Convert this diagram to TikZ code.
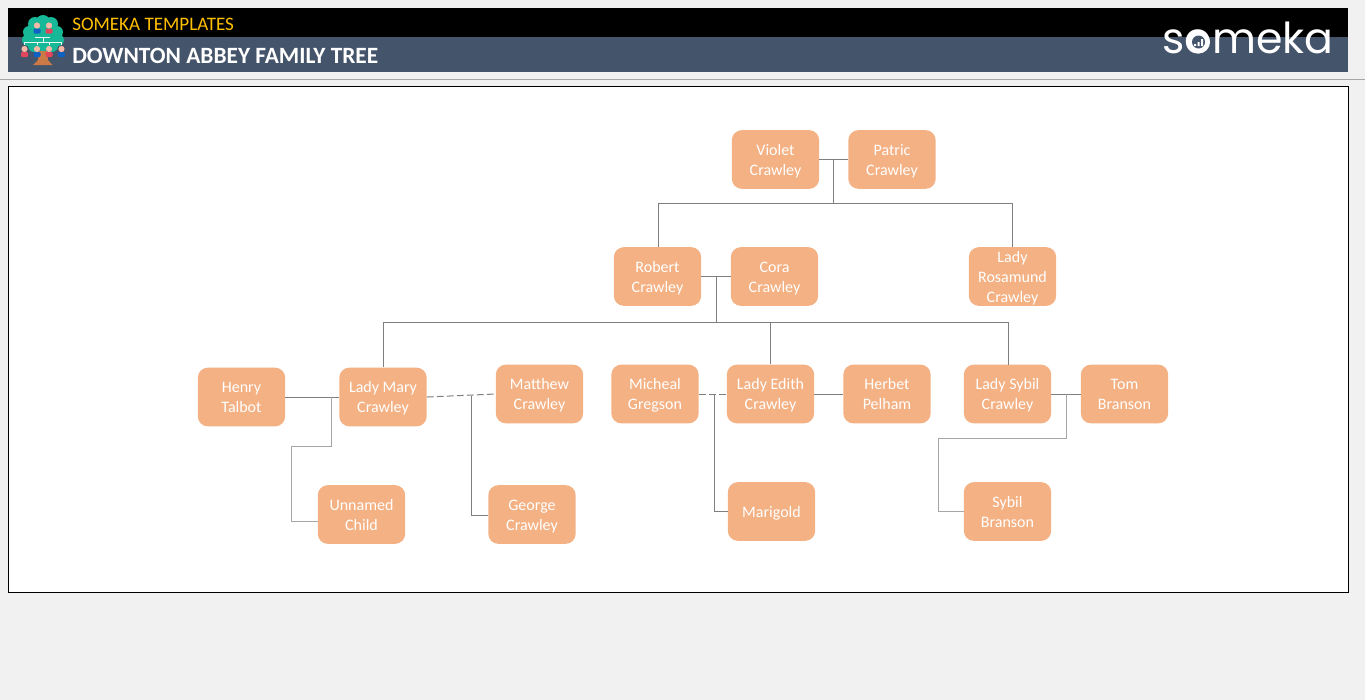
\documentclass[tikz,border=0pt]{standalone}
\usepackage{fontspec}
\setmainfont{Carlito}
\newfontfamily\logofont{Poppins}
\definecolor{pagegrey}{HTML}{F1F1F1}
\definecolor{slate}{HTML}{44546A}
\definecolor{salmon}{HTML}{F4B183}
\definecolor{linegrey}{HTML}{7F7F7F}
\definecolor{lightline}{HTML}{A6A6A6}
\definecolor{gold}{HTML}{FFC000}
\definecolor{canopy}{HTML}{17B897}
\definecolor{trunk}{HTML}{CC7A45}
\definecolor{skin}{HTML}{F6B9A8}
\definecolor{blueperson}{HTML}{0F62C4}
\definecolor{redperson}{HTML}{E2455C}
\newcommand{\pname}[1]{\rule{0pt}{11.2pt}#1\rule[-2.7pt]{0pt}{2.7pt}}
\tikzset{
person/.style={fill=salmon,rounded corners=7.5pt,minimum width=65.5pt,minimum height=44pt,
  inner sep=0pt,align=center,text=white,font=\fontsize{12}{15}\selectfont},
link/.style={draw=linegrey,line width=0.75pt},
lightlink/.style={draw=lightline,line width=0.9pt},
affair/.style={draw=linegrey,line width=0.75pt,dash pattern=on 5pt off 2.5pt}
}
\begin{document}
\begin{tikzpicture}[x=0.75pt,y=-0.75pt]
\useasboundingbox (0,0) rectangle (1365,700);
\fill [pagegrey] (0,0) rectangle (1365,700);
% header
\fill [black] (8,8) rectangle (1348,37);
\fill [slate] (8,37) rectangle (1348,72);
\draw [lightline,line width=0.75pt] (0,79.5) -- (1365,79.5);
\draw [black,fill=white,line width=0.75pt] (8.5,86.5) rectangle (1348.5,592.5);
\node (brand) [anchor=west,text=gold,inner sep=0pt,font=\fontsize{14.3}{15}\selectfont] at (72,24.5) {SOMEKA TEMPLATES};
\node (title) [anchor=west,text=white,inner sep=0pt,font=\fontsize{17.5}{20}\selectfont\bfseries] at (72,56) {DOWNTON ABBEY FAMILY TREE};
% logo
\fill [canopy] \foreach \x/\y/\r in {43/22/7,35/24/7,51/24/7,29/32/6,57/32/6,28/40/6,58/40/6,34/46/6,52/46/6,43/36/15} {(\x,\y) circle (\r)};
\fill [trunk] (39,51) -- (47,51) -- (48,60) -- (52.5,65) -- (33,65) -- (38,60) -- cycle;
\draw [white!90!canopy,line width=0.75pt] (35,37) -- (50,37) (43,37) -- (43,42) (24.5,42) -- (61.5,42) (24.5,42) -- (24.5,45) (37,42) -- (37,45) (49,42) -- (49,45) (61.5,42) -- (61.5,45);
\foreach \x/\y/\c in {37/25.5/blueperson,49/25.5/redperson,24.5/49/redperson,37/49/blueperson,49/49/redperson,61.5/49/blueperson} {
\fill [\c,rounded corners=0.8pt] (\x-3.5,\y+8) rectangle (\x+3.5,\y+3);
\fill [skin] (\x,\y) circle (3.1);
}
% wordmark
\node (wordmark) [anchor=base,text=white,inner sep=0pt,font=\logofont\fontsize{32}{32}\selectfont] at (1248,53) {someka};
\fill [white] (1198.5,42) circle (11.5);
\fill [slate] (1198.5,42) circle (6.5);
\fill [white] (1194,44) rectangle (1196,46) (1197.5,42) rectangle (1199.5,46) (1201,39) rectangle (1203,46);
% people
\node [person] (violet) at (775.5,159.5) {\pname{Violet\\Crawley}};
\node [person] (patric) at (892,159.5) {\pname{Patric\\Crawley}};
\node [person] (robert) at (657.5,276.5) {\pname{Robert\\Crawley}};
\node [person] (cora) at (774.5,276.5) {\pname{Cora\\Crawley}};
\node [person] (rosamund) at (1012.5,276.5) {\pname{Lady\\Rosamund\\Crawley}};
\node [person] (henry) at (241.5,397) {\pname{Henry\\Talbot}};
\node [person] (mary) at (383,397) {\pname{Lady Mary\\Crawley}};
\node [person] (matthew) at (539.5,394) {\pname{Matthew\\Crawley}};
\node [person] (micheal) at (655,394) {\pname{Micheal\\Gregson}};
\node [person] (edith) at (770.5,394) {\pname{Lady Edith\\Crawley}};
\node [person] (herbet) at (887,394) {\pname{Herbet\\Pelham}};
\node [person] (sybil) at (1007.5,394) {\pname{Lady Sybil\\Crawley}};
\node [person] (tom) at (1124.5,394) {\pname{Tom\\Branson}};
\node [person] (unnamed) at (361.5,514.5) {\pname{Unnamed\\Child}};
\node [person] (george) at (532,514.5) {\pname{George\\Crawley}};
\node [person] (marigold) at (771.5,511.5) {\pname{Marigold}};
\node [person] (branson) at (1007.5,511.5) {\pname{Sybil\\Branson}};
% junctions
\coordinate (topj) at (833.5,159.5);
\coordinate (topd) at (833.5,203.5);
\coordinate (midj) at (716.5,277);
\coordinate (midd) at (716.5,322.5);
\coordinate (maryj) at (331.5,397);
\coordinate (georgej) at (471,395.5);
\coordinate (georged) at (471,515.5);
\coordinate (marij) at (714.5,394);
\coordinate (tomj) at (1066.5,394);
\coordinate (robertt) at (658.5,247);
\coordinate (sybilt) at (1008.5,365);
\coordinate (unnamedl) at (291.5,446.5);
\coordinate (unnamedd) at (291.5,521.5);
\coordinate (bransonl) at (938.5,438.5);
% couples
\draw [link] (violet) -- (patric);
\draw [link] (robert) -- (cora);
\draw [link] (henry) -- (mary);
\draw [link] (edith) -- (herbet);
\draw [link] (sybil) -- (tom);
\draw [affair] (mary.east) -- (matthew.west);
\draw [affair] (micheal.east) -- (edith.west);
% children
\draw [link] (topj) -- (topd);
\draw [link] (robertt) |- (topd) -| (rosamund.north);
\draw [link] (midj) -- (midd);
\draw [link] (mary.north) |- (midd) -| (sybilt);
\draw [link] (edith.north) -- (edith.north |- midd);
\draw [lightlink] (maryj) |- (unnamedl) -- (unnamedd) -- (unnamed.west |- unnamedd);
\draw [link] (georgej) -- (georged) -- (george.west |- georged);
\draw [link] (marij) |- (marigold.west);
\draw [lightlink] (tomj) |- (bransonl) |- (branson.west);
\end{tikzpicture}
\end{document}
